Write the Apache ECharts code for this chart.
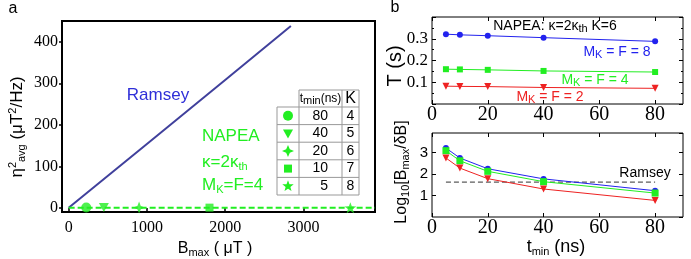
<!DOCTYPE html>
<html>
<head>
<meta charset="utf-8">
<title>Ramsey vs NAPEA</title>
<script src="https://cdn.jsdelivr.net/npm/echarts@6/dist/echarts.min.js"></script>
</head>
<body style="margin:0">
<div id="main" style="width:691px;height:259px;"></div>
<script>
// panel a: eta^2 vs Bmax
var bRamsey = [0, 1000, 2000, 2840];
var etaRamsey = [0, 154, 308, 438];
var bNapea = [225, 450, 900, 1800, 3600];
var etaNapea = [1, 0.8, 0.6, 0.5, 0.4];
var napeaLineB = [0, 3915];
var napeaLineEta = [0.5, 0.5];
var tminTable = [80, 40, 20, 10, 5];
var kTable = [4, 5, 6, 7, 8];
var ticksA_x = [0, 1000, 2000, 3000];
var ticksA_y = [0, 100, 200, 300, 400];

// panel b: T and log10(Bmax/dB) vs tmin
var tmin = [5, 10, 20, 40, 80];
var T8 = [0.321, 0.318, 0.314, 0.305, 0.288];
var T4 = [0.160, 0.159, 0.157, 0.152, 0.147];
var T2 = [0.082, 0.081, 0.080, 0.076, 0.072];
var log8 = [3.20, 2.74, 2.24, 1.77, 1.22];
var log4 = [3.08, 2.61, 2.12, 1.64, 1.11];
var log2 = [2.74, 2.27, 1.78, 1.30, 0.77];
var ramseyT = [5, 80];
var ramseyLog = [1.62, 1.62];
var ticksB_x = [0, 20, 40, 60, 80];

var GREEN = '#22ee22', BLUE = '#2222ee', RED = '#ee2222';
var SANS = 'Liberation Sans';
var SERIF = 'Liberation Serif';

function zip(a, b) {
    var out = [];
    for (var i = 0; i < a.length; i++) out.push([a[i], b[i]]);
    return out;
}
// axis label text goes through rich so the font family sticks
function tickLabel(family, size, margin, custom) {
    var lab = {
        formatter: function (v) { return '{t|' + String(v) + '}'; },
        rich: {t: {fontFamily: family, fontSize: size, color: '#000'}},
        fontFamily: family, fontSize: size, color: '#000', margin: margin
    };
    if (custom) lab.customValues = custom;
    return lab;
}
// star outline points, first tip pointing up
function starPts(cx, cy, n, R, r) {
    var pts = [];
    for (var i = 0; i < 2 * n; i++) {
        var ang = -Math.PI / 2 + i * Math.PI / n;
        var rad = (i % 2 == 0) ? R : r;
        pts.push([cx + rad * Math.cos(ang), cy + rad * Math.sin(ang)]);
    }
    return pts;
}
function starPath(n, R, r) {
    var p = starPts(0, 0, n, R, r);
    var s = 'path://M' + p[0][0].toFixed(2) + ',' + p[0][1].toFixed(2);
    for (var i = 1; i < p.length; i++) s += 'L' + p[i][0].toFixed(2) + ',' + p[i][1].toFixed(2);
    return s + 'Z';
}
var star4 = starPath(4, 10, 4);
var star5 = starPath(5, 10, 4);
var napeaSymbols = [
    {symbol: 'circle', symbolSize: 10},
    {symbol: 'triangle', symbolSize: [10, 9], symbolRotate: 180},
    {symbol: star4, symbolSize: 12},
    {symbol: 'rect', symbolSize: 8},
    {symbol: star5, symbolSize: [12, 11]}
];

var subRich = {
    sub: {fontFamily: SANS, fontSize: 11, lineHeight: 10, verticalAlign: 'bottom'},
    sup: {fontFamily: SANS, fontSize: 11, lineHeight: 10, verticalAlign: 'top'}
};
function txt(x, y, text, size, color, rot, align) {
    var el = {
        type: 'text', x: x, y: y, z: 100,
        style: {
            text: text, fill: color || '#000',
            font: size + 'px ' + SANS, fontSize: size, fontFamily: SANS, lineHeight: size + 3,
            align: align || 'center', verticalAlign: 'middle',
            textAlign: align || 'center', textVerticalAlign: 'middle',
            rich: subRich
        }
    };
    if (rot) el.rotation = rot;
    return el;
}

// table inside panel a
function buildTable() {
    var els = [];
    var x0 = 277, x1 = 299, x2 = 342, x3 = 359;
    var yh = 90, y0 = 107, rh = 17.6;
    var yEnd = y0 + rh * tminTable.length;
    var line = function (ax, ay, bx, by) {
        els.push({type: 'line', z: 100, shape: {x1: ax, y1: ay, x2: bx, y2: by},
            style: {stroke: '#999', lineWidth: 1}});
    };
    els.push({type: 'rect', z: 99, shape: {x: x1, y: yh, width: x3 - x1, height: y0 - yh}, style: {fill: '#fff'}});
    els.push({type: 'rect', z: 99, shape: {x: x0, y: y0, width: x3 - x0, height: yEnd - y0}, style: {fill: '#fff'}});
    line(x1, yh, x3, yh);
    for (var i = 0; i <= tminTable.length; i++) line(x0, y0 + i * rh, x3, y0 + i * rh);
    line(x0, y0, x0, yEnd);
    line(x1, yh, x1, yEnd);
    line(x2, yh, x2, yEnd);
    line(x3, yh, x3, yEnd);
    els.push(txt((x1 + x2) / 2, (yh + y0) / 2, 't{sub|min}(ns)', 12));
    els.push(txt((x2 + x3) / 2, (yh + y0) / 2, 'K', 16));
    for (var i = 0; i < tminTable.length; i++) {
        var cy = y0 + (i + 0.5) * rh, cx = (x0 + x1) / 2;
        els.push(txt(328, cy, String(tminTable[i]), 14, '#000', 0, 'right'));
        els.push(txt((x2 + x3) / 2, cy, String(kTable[i]), 14));
        var sh;
        if (i == 0) sh = {type: 'circle', shape: {cx: cx, cy: cy, r: 5}};
        else if (i == 1) sh = {type: 'polygon', shape: {points: [[cx - 5, cy - 4], [cx + 5, cy - 4], [cx, cy + 5]]}};
        else if (i == 2) sh = {type: 'polygon', shape: {points: starPts(cx, cy, 4, 6, 2.6)}};
        else if (i == 3) sh = {type: 'rect', shape: {x: cx - 4, y: cy - 4, width: 8, height: 8}};
        else sh = {type: 'polygon', shape: {points: starPts(cx, cy, 5, 6, 2.5)}};
        sh.z = 100;
        sh.style = {fill: GREEN};
        els.push(sh);
    }
    return els;
}

function axisB_x(grid, top, labels) {
    var lab = tickLabel(SERIF, 20, 1, ticksB_x);
    lab.show = labels;
    return {
        type: 'value', gridIndex: grid, position: top ? 'top' : 'bottom',
        min: 0, max: 90,
        axisLine: {show: false, onZero: false},
        axisTick: {show: true, inside: true, length: 4, customValues: ticksB_x, lineStyle: {color: '#000'}},
        axisLabel: lab,
        splitLine: {show: false}
    };
}
function axisB_y(grid, right, labels, max, interval, size, font, minor) {
    var lab = tickLabel(font, size, 4);
    lab.show = labels;
    lab.showMinLabel = false;
    lab.showMaxLabel = false;
    return {
        type: 'value', gridIndex: grid, position: right ? 'right' : 'left',
        min: 0, max: max, interval: interval,
        axisLine: {show: false, onZero: false},
        axisTick: {show: true, inside: true, length: 4, lineStyle: {color: '#000'}},
        minorTick: {show: minor, splitNumber: 2, length: 2, lineStyle: {color: '#000'}},
        axisLabel: lab,
        splitLine: {show: false}
    };
}

var myChart = echarts.init(document.getElementById('main'));
var option = {
    animation: false,
    backgroundColor: '#fff',
    textStyle: {fontFamily: SERIF},
    grid: [
        {left: 62, top: 21, width: 313, height: 191, show: true, borderColor: '#000', borderWidth: 2},
        {left: 432, top: 17, width: 251, height: 87, show: true, borderColor: '#000', borderWidth: 1},
        {left: 432, top: 133, width: 251, height: 84, show: true, borderColor: '#000', borderWidth: 1}
    ],
    xAxis: [
        {
            type: 'value', gridIndex: 0, min: -85, max: 3915,
            axisLine: {show: false, onZero: false},
            axisTick: {show: true, inside: true, length: 4, customValues: ticksA_x, lineStyle: {color: '#000', width: 1.5}},
            axisLabel: tickLabel(SERIF, 16, 8, ticksA_x),
            splitLine: {show: false}
        },
        axisB_x(1, false, true),
        axisB_x(1, true, false),
        axisB_x(2, false, true),
        axisB_x(2, true, false)
    ],
    yAxis: [
        {
            type: 'value', gridIndex: 0, min: -10, max: 450,
            axisLine: {show: false, onZero: false},
            axisTick: {show: true, inside: false, length: 3, customValues: ticksA_y, lineStyle: {color: '#000', width: 1.5}},
            axisLabel: tickLabel(SERIF, 16, 4, ticksA_y),
            splitLine: {show: false}
        },
        axisB_y(1, false, true, 0.4, 0.1, 17, SERIF, true),
        axisB_y(1, true, false, 0.4, 0.1, 17, SERIF, true),
        axisB_y(2, false, true, 3.9, 1, 15, SANS, false),
        axisB_y(2, true, false, 3.9, 1, 15, SANS, false)
    ],
    series: [
        {
            name: 'Ramsey', type: 'line', xAxisIndex: 0, yAxisIndex: 0,
            data: zip(bRamsey, etaRamsey), symbol: 'none',
            lineStyle: {color: '#40409c', width: 2}
        },
        {
            name: 'NAPEA fit', type: 'line', xAxisIndex: 0, yAxisIndex: 0,
            data: zip(napeaLineB, napeaLineEta), symbol: 'none',
            lineStyle: {color: GREEN, width: 2, type: [6, 3]}
        },
        {
            name: 'NAPEA', type: 'scatter', xAxisIndex: 0, yAxisIndex: 0,
            itemStyle: {color: GREEN},
            data: zip(bNapea, etaNapea).map(function (v, i) {
                var d = {value: v};
                for (var k in napeaSymbols[i]) d[k] = napeaSymbols[i][k];
                return d;
            })
        },
        // T(s)
        {type: 'line', xAxisIndex: 1, yAxisIndex: 1, data: zip(tmin, T8), symbol: 'circle', symbolSize: 6,
            lineStyle: {color: BLUE, width: 1}, itemStyle: {color: BLUE}},
        {type: 'line', xAxisIndex: 1, yAxisIndex: 1, data: zip(tmin, T4), symbol: 'rect', symbolSize: 6,
            lineStyle: {color: GREEN, width: 1}, itemStyle: {color: GREEN}},
        {type: 'line', xAxisIndex: 1, yAxisIndex: 1, data: zip(tmin, T2), symbol: 'triangle', symbolSize: 7, symbolRotate: 180,
            lineStyle: {color: RED, width: 1}, itemStyle: {color: RED}},
        // log10
        {type: 'line', xAxisIndex: 3, yAxisIndex: 3, data: zip(ramseyT, ramseyLog), symbol: 'none',
            lineStyle: {color: '#333', width: 1, type: [5, 3]}},
        {type: 'line', xAxisIndex: 3, yAxisIndex: 3, data: zip(tmin, log8), symbol: 'circle', symbolSize: 6,
            lineStyle: {color: BLUE, width: 1}, itemStyle: {color: BLUE}},
        {type: 'line', xAxisIndex: 3, yAxisIndex: 3, data: zip(tmin, log4), symbol: 'rect', symbolSize: 7,
            lineStyle: {color: GREEN, width: 1}, itemStyle: {color: GREEN}},
        {type: 'line', xAxisIndex: 3, yAxisIndex: 3, data: zip(tmin, log2), symbol: 'triangle', symbolSize: 7, symbolRotate: 180,
            lineStyle: {color: RED, width: 1}, itemStyle: {color: RED}}
    ],
    graphic: [
        txt(13, 9, 'a', 16),
        txt(395, 8, 'b', 16),
        txt(17, 127, 'η{sup|2}{sub|avg} (μT{sup|2}/Hz)', 17, '#000', Math.PI / 2),
        txt(215, 249, 'B{sub|max} ( μT )', 16),
        txt(158, 95, 'Ramsey', 17, '#2f2fd8'),
        txt(202, 136, 'NAPEA', 17, GREEN, 0, 'left'),
        txt(202, 162, 'κ=2κ{sub|th}', 17, GREEN, 0, 'left'),
        txt(202, 185, 'M{sub|K}=F=4', 17, GREEN, 0, 'left'),
        txt(395, 66, 'T (s)', 20, '#000', Math.PI / 2),
        txt(402, 172, 'Log{sub|10}[B{sub|max}/δB]', 16, '#000', Math.PI / 2),
        txt(556, 247, 't{sub|min} (ns)', 18),
        txt(555, 26, 'NAPEA: κ=2κ{sub|th} K=6', 14),
        txt(617, 52, 'M{sub|K} = F = 8', 14, BLUE),
        txt(595, 80, 'M{sub|K} = F = 4', 14, GREEN),
        txt(550, 97, 'M{sub|K} = F = 2', 14, RED),
        txt(645, 173, 'Ramsey', 14)
    ].concat(buildTable())
};
myChart.setOption(option);
</script>
</body>
</html>
